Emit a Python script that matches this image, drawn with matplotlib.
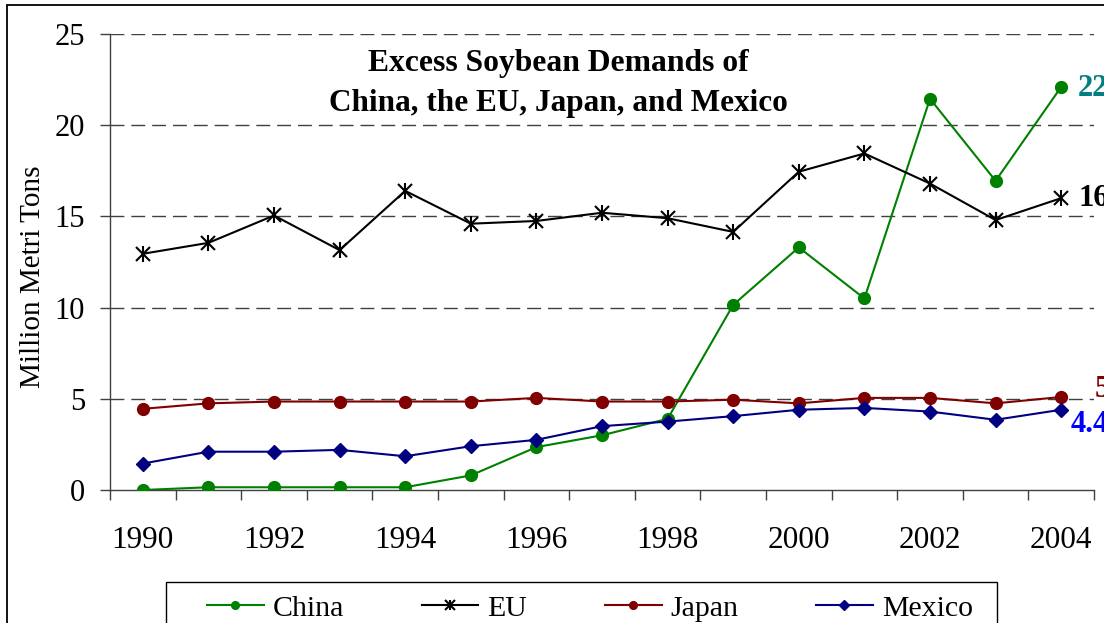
import matplotlib
matplotlib.use("Agg")
import matplotlib.pyplot as plt
from matplotlib.patches import Rectangle

# Excess soybean demand, million metric tons
years = list(range(1990, 2005))
china = [0.0, 0.15, 0.15, 0.15, 0.15, 0.8, 2.35, 3.0, 3.9, 10.15, 13.3, 10.5, 21.45, 16.95, 22.1]
eu = [12.95, 13.55, 15.05, 13.15, 16.4, 14.6, 14.75, 15.2, 14.9, 14.15, 17.45, 18.45, 16.8, 14.8, 16.0]
japan = [4.45, 4.75, 4.85, 4.85, 4.85, 4.85, 5.05, 4.85, 4.85, 4.95, 4.75, 5.05, 5.05, 4.75, 5.1]
mexico = [1.45, 2.1, 2.1, 2.2, 1.85, 2.4, 2.75, 3.5, 3.75, 4.05, 4.4, 4.5, 4.3, 3.85, 4.4]
year_labels = [str(y) for y in years[::2]]
title_lines = ["Excess Soybean Demands of", "China, the EU, Japan, and Mexico"]

W, H = 1104, 623
plt.rcParams["font.family"] = ["Liberation Serif", "DejaVu Serif"]

fig = plt.figure(figsize=(W / 100, H / 100), dpi=100)
ax_l, ax_r, ax_t, ax_b = 110, 1094, 34, 490
ax = fig.add_axes([ax_l / W, 1 - ax_b / H, (ax_r - ax_l) / W, (ax_b - ax_t) / H])


def ax_frac(px, py):
    """Pixel position -> axes fraction."""
    return (px - ax_l) / (ax_r - ax_l), (ax_b - py) / (ax_b - ax_t)


x = list(range(len(years)))
lw = 1.5
l_china, = ax.plot(x, china, color="#008000", lw=lw, marker="o", ms=8.5, zorder=3)
l_eu, = ax.plot(x, eu, color="black", lw=lw, marker="x", ms=10, mew=1.5, zorder=3)
l_eu_bar, = ax.plot(x, eu, color="black", lw=0, marker="|", ms=11, mew=1.5, zorder=3)
l_japan, = ax.plot(x, japan, color="#800000", lw=lw, marker="o", ms=8.5, zorder=3)
l_mexico, = ax.plot(x, mexico, color="#000080", lw=lw, marker="D", ms=7.5, zorder=3)

ax.set_xlim(-0.5, len(years) - 0.5)
ax.set_ylim(0, 25)

# y axis
ax.set_yticks([0, 5, 10, 15, 20, 25])
ax.tick_params(axis="y", direction="out", length=7, width=1, color="#404040",
               labelsize=22, pad=11)
for yv in [5, 10, 15, 20, 25]:
    ax.axhline(yv, color="#404040", lw=1, ls=(0, (10, 5)), zorder=1)

# x axis: ticks between categories, labels on every other year
ax.set_xticks([i - 0.5 for i in range(len(years) + 1)])
ax.set_xticklabels([])
ax.tick_params(axis="x", which="major", direction="out", length=7, width=1, color="#404040")
ax.set_xticks(x[::2], minor=True)
ax.set_xticklabels(year_labels, minor=True)
ax.tick_params(axis="x", which="minor", length=0, labelsize=22.5, pad=26)

for side in ["top", "right"]:
    ax.spines[side].set_visible(False)
for side in ["left", "bottom"]:
    ax.spines[side].set_color("#404040")
    ax.spines[side].set_linewidth(1)

ax.set_ylabel("Million Metri Tons", fontsize=21)
ax.yaxis.set_label_coords(*ax_frac(46, 277))

# title inside the plot area
ax.text(*ax_frac(558, 63), title_lines[0], transform=ax.transAxes,
        ha="center", va="center", fontsize=22.8, fontweight="bold")
ax.text(*ax_frac(558, 104), title_lines[1], transform=ax.transAxes,
        ha="center", va="center", fontsize=22.5, fontweight="bold")

# end-of-series value labels
end_labels = [
    (china[-1], "#008080", 17, -2),
    (eu[-1], "black", 17, 0),
    (japan[-1], "#800000", 33, 7),
    (mexico[-1], "#0000FF", 9, -15),
]
for val, col, dx, dy in end_labels:
    ax.annotate(f"{val:.1f}", xy=(x[-1], val), xytext=(dx * 0.72, dy * 0.72),
                textcoords="offset points", ha="left", va="center", color=col,
                fontsize=22, fontweight="bold", annotation_clip=False)

# legend below the plot
leg = fig.legend(
    [l_china, (l_eu, l_eu_bar), l_japan, l_mexico],
    ["China", "EU", "Japan", "Mexico"],
    loc="upper left", bbox_to_anchor=(207 / W, 1 - 595 / H),
    bbox_transform=fig.transFigure, ncol=4, fontsize=21.5, markerscale=0.65,
    handlelength=1.9, handletextpad=0.3, columnspacing=2.6, borderaxespad=0,
    borderpad=0, frameon=False,
)
fig.add_artist(Rectangle((166 / W, -0.2), (997 - 166) / W, 1 - 582 / H + 0.2,
                         transform=fig.transFigure, fill=False, ec="black", lw=1))

# outer chart border
fig.add_artist(Rectangle((7 / W, -0.2), 1.5, 1 - 5 / H + 0.2, transform=fig.transFigure,
                         fill=False, ec="black", lw=1.3))

fig.savefig("out.png", dpi=100)
